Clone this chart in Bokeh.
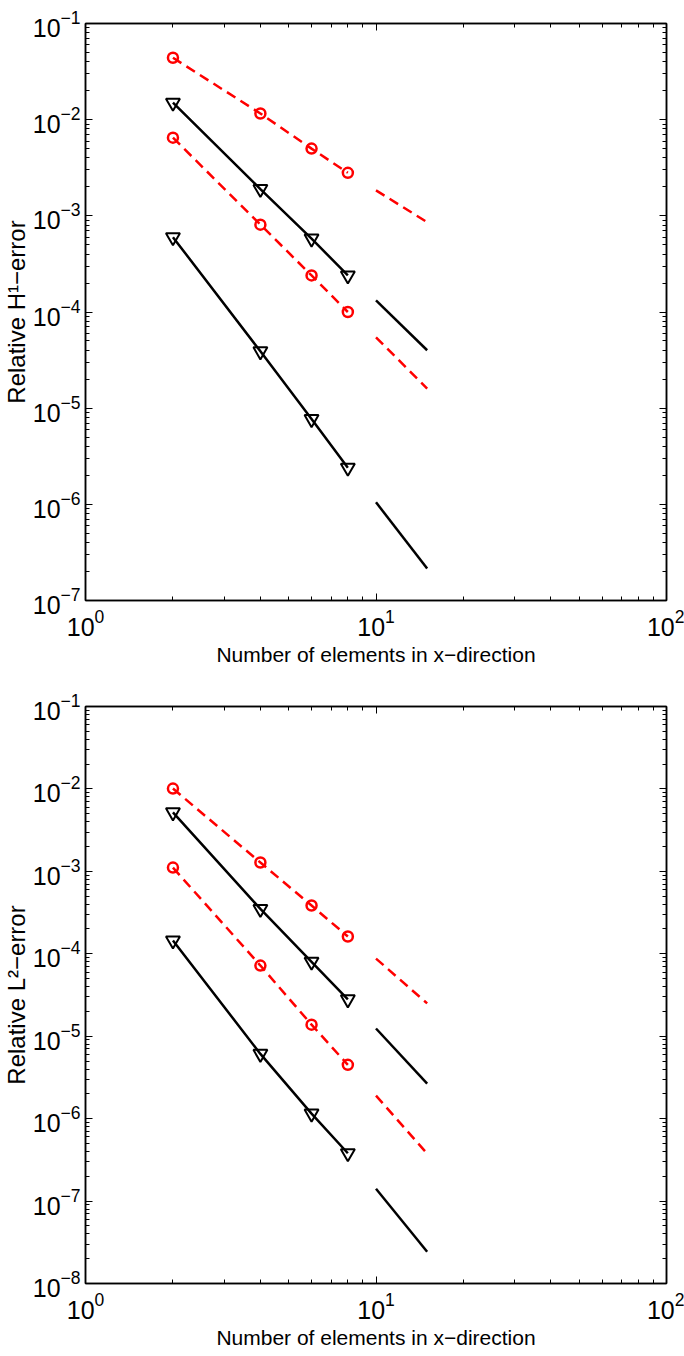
from bokeh.plotting import figure
from bokeh.models import LogAxis, FixedTicker, Range1d, CustomJSTickFormatter, Title
from bokeh.layouts import column
from bokeh.embed import file_html
from bokeh.resources import INLINE

# ---------------- data ----------------
x_pts = [2, 4, 6, 8]
x_ref = [10, 15]

# Relative H1-error
h1_red_a = [4.4e-2, 1.16e-2, 5.0e-3, 2.8e-3]
h1_red_b = [6.5e-3, 8.1e-4, 2.4e-4, 1.0e-4]
h1_blk_a = [1.5e-2, 1.9e-3, 5.8e-4, 2.4e-4]
h1_blk_b = [6.0e-4, 3.9e-5, 7.7e-6, 2.4e-6]
h1_ref_red_a = [1.84e-3, 8.6e-4]
h1_ref_red_b = [5.45e-5, 1.6e-5]
h1_ref_blk_a = [1.32e-4, 4.0e-5]
h1_ref_blk_b = [1.05e-6, 2.15e-7]

# Relative L2-error
l2_red_a = [1.01e-2, 1.28e-3, 3.85e-4, 1.62e-4]
l2_red_b = [1.11e-3, 7.2e-5, 1.38e-5, 4.5e-6]
l2_blk_a = [5.2e-3, 3.5e-4, 8.0e-5, 2.8e-5]
l2_blk_b = [1.45e-4, 6.1e-6, 1.15e-6, 3.8e-7]
l2_ref_red_a = [8.75e-5, 2.5e-5]
l2_ref_red_b = [1.9e-6, 3.76e-7]
l2_ref_blk_a = [1.24e-5, 2.66e-6]
l2_ref_blk_b = [1.41e-7, 2.43e-8]

x_label = "Number of elements in x\u2212direction"
y_label_top = "Relative H\u00b9\u2212error"
y_label_bottom = "Relative L\u00b2\u2212error"

FONT = "Liberation Sans"
RED = "#ff0000"
BLACK = "#000000"


def log_ticker(lo, hi):
    majors = [10.0 ** k for k in range(lo, hi + 1)]
    minors = [m * 10.0 ** k for k in range(lo, hi) for m in range(2, 10)]
    return FixedTicker(ticks=majors, minor_ticks=minors)


def style_axis(ax, labels=True):
    ax.major_tick_in = 7
    ax.major_tick_out = 0
    ax.minor_tick_in = 4
    ax.minor_tick_out = 0
    ax.axis_line_color = BLACK
    ax.axis_line_width = 1.5
    ax.major_tick_line_color = BLACK
    ax.minor_tick_line_color = BLACK
    ax.major_tick_line_width = 1
    ax.minor_tick_line_width = 1
    if labels:
        ax.major_label_text_font = FONT
        ax.major_label_text_font_size = "25px"
        ax.major_label_text_color = BLACK
    else:
        ax.formatter = CustomJSTickFormatter(code="return ''")
        ax.major_label_standoff = 0


def make_fig(y_lo, border_top, border_bottom, ylab, red_a, red_b, blk_a, blk_b,
             rra, rrb, rba, rbb):
    p = figure(width=684, height=678, x_axis_type="log", y_axis_type="log",
               x_range=Range1d(1, 100), y_range=Range1d(10.0 ** y_lo, 1e-1),
               output_backend="svg", toolbar_location=None,
               min_border_left=84, min_border_right=18,
               min_border_top=border_top, min_border_bottom=border_bottom,
               background_fill_color="white", border_fill_color="white")
    p.xgrid.visible = False
    p.ygrid.visible = False
    p.outline_line_color = BLACK
    p.outline_line_width = 1.5

    p.xaxis.ticker = log_ticker(0, 2)
    p.yaxis.ticker = log_ticker(y_lo, -1)
    style_axis(p.xaxis[0])
    style_axis(p.yaxis[0])
    p.xaxis.major_label_standoff = 8
    p.yaxis.major_label_standoff = 5
    p.xaxis.axis_label = x_label
    p.xaxis.axis_label_text_font = FONT
    p.xaxis.axis_label_text_font_size = "21px"
    p.xaxis.axis_label_text_font_style = "normal"
    p.xaxis.axis_label_text_color = BLACK
    p.xaxis.axis_label_standoff = 4

    top_ax = LogAxis(ticker=log_ticker(0, 2))
    right_ax = LogAxis(ticker=log_ticker(y_lo, -1))
    style_axis(top_ax, labels=False)
    style_axis(right_ax, labels=False)
    p.add_layout(top_ax, "above")
    p.add_layout(right_ax, "right")

    # y-axis title, placed on the left and shifted upward like the original
    p.add_layout(Title(text=ylab, align="center", offset=62, text_font=FONT,
                       text_font_size="24px", text_font_style="normal",
                       text_color=BLACK, standoff=0), "left")

    dash = "10 6"
    # reference slope lines
    p.line(x_ref, rra, line_color=RED, line_width=2.5, line_dash=dash)
    p.line(x_ref, rrb, line_color=RED, line_width=2.5, line_dash=dash)
    p.line(x_ref, rba, line_color=BLACK, line_width=2.5)
    p.line(x_ref, rbb, line_color=BLACK, line_width=2.5)

    # data series
    for ys in (red_a, red_b):
        p.line(x_pts, ys, line_color=RED, line_width=2.5, line_dash=dash)
        p.scatter(x_pts, ys, marker="circle", size=10, line_color=RED,
                  line_width=2.5, fill_color=None)
    for ys in (blk_a, blk_b):
        p.line(x_pts, ys, line_color=BLACK, line_width=2.5)
        p.scatter(x_pts, ys, marker="inverted_triangle", size=14,
                  line_color=BLACK, line_width=2, fill_color=None)
    return p


p1 = make_fig(-7, 23, 78, y_label_top, h1_red_a, h1_red_b, h1_blk_a, h1_blk_b,
              h1_ref_red_a, h1_ref_red_b, h1_ref_blk_a, h1_ref_blk_b)
p2 = make_fig(-8, 28, 73, y_label_bottom, l2_red_a, l2_red_b, l2_blk_a, l2_blk_b,
              l2_ref_red_a, l2_ref_red_b, l2_ref_blk_a, l2_ref_blk_b)

layout = column(p1, p2, spacing=0)
open("out.html", "w").write(file_html(layout, INLINE))
